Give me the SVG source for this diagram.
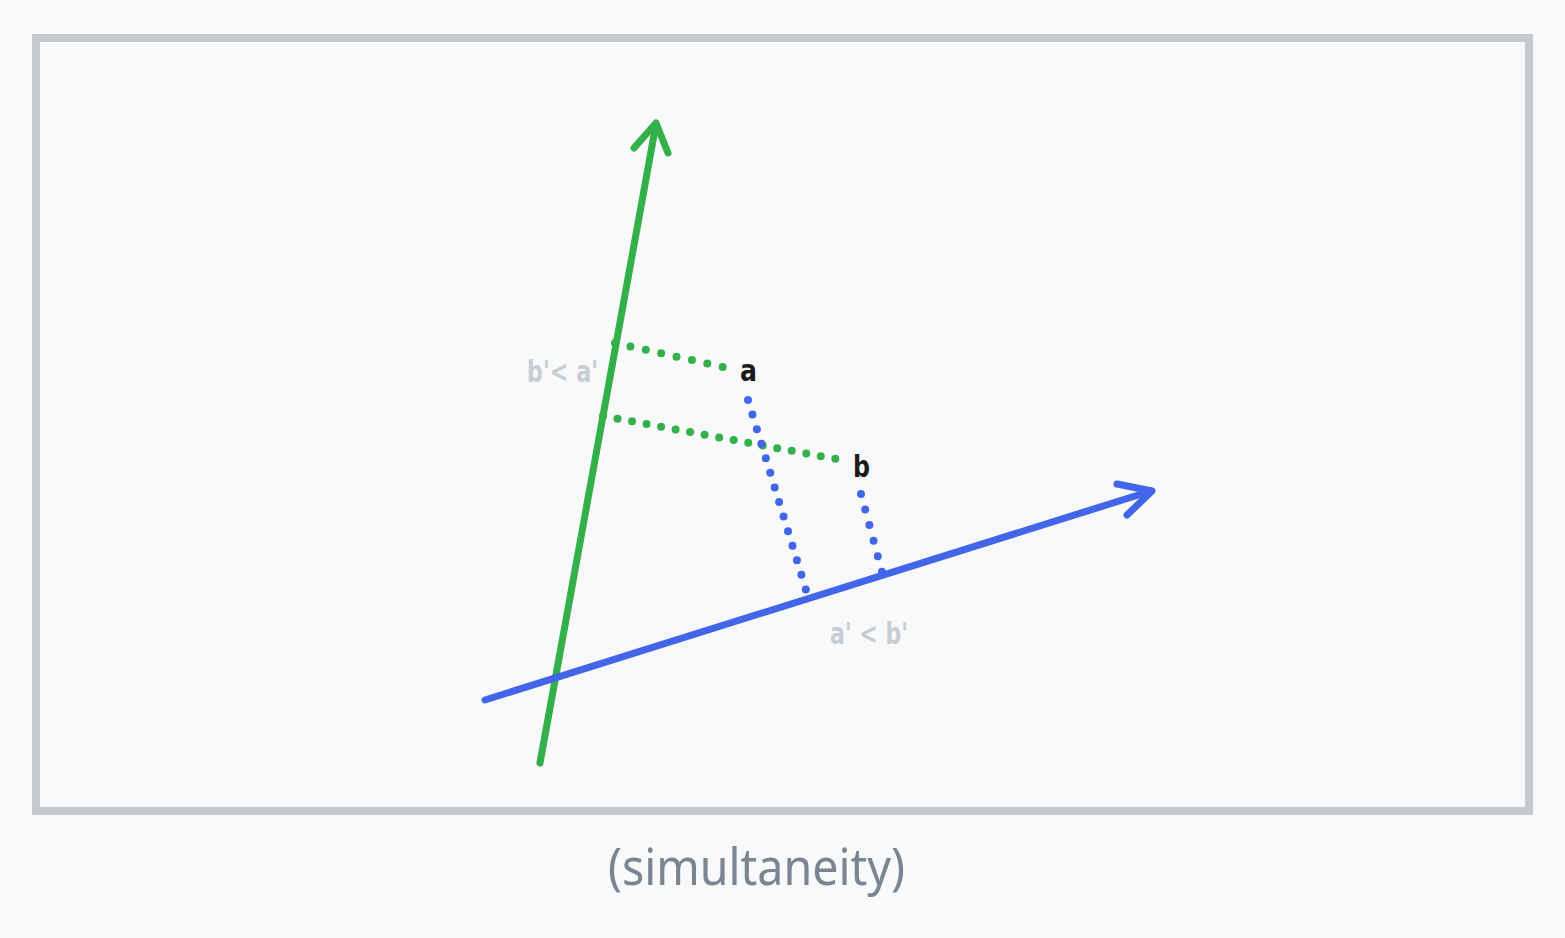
<svg xmlns="http://www.w3.org/2000/svg" width="1565" height="938" viewBox="0 0 1565 938">
<style>
.axis{fill:none;stroke-width:7;stroke-linecap:round;stroke-linejoin:round}
.dot{fill:none;stroke-width:8;stroke-linecap:round;stroke-dasharray:0 0.997}
.g{stroke:#34b04a}
.b{stroke:#4365ea}
.pt{font-family:"DejaVu Sans",sans-serif;font-weight:bold;font-size:30px;fill:#1b1b1b}
.lbl{font-family:"DejaVu Sans",sans-serif;font-weight:bold;font-size:30px;fill:#c8cdd2}
.cap{font-family:"Noto Sans",sans-serif;font-size:51px;fill:#7b8591}
</style>
<rect width="1565" height="938" fill="#f8f9fa"/>
<rect id="frame" x="36" y="38" width="1493" height="773" fill="#f8f9fa" stroke="#c5cacf" stroke-width="8"/>
<g id="connectors">
<path class="dot g" d="M615,343 L723,367" pathLength="7"/>
<path class="dot g" d="M603,416 L836,459" pathLength="16"/>
<path class="dot b" d="M748,400 L806,590" pathLength="13"/>
<path class="dot b" d="M861,494 L882,572" pathLength="5"/>
</g>
<g id="green-axis">
<path class="axis g" d="M540,763 L656,124"/>
<path class="axis g" d="M634,148 L656,123 L668,153"/>
</g>
<g id="blue-axis">
<path class="axis b" d="M485,700 L1151,491"/>
<path class="axis b" d="M1117,484 L1152,491 L1127,515"/>
</g>
<g id="point-a"><text class="pt" x="740" y="381" textLength="17" lengthAdjust="spacingAndGlyphs">a</text></g>
<g id="point-b"><text class="pt" x="853" y="477" textLength="17" lengthAdjust="spacingAndGlyphs">b</text></g>
<g id="label-green"><text class="lbl" x="527" y="382" textLength="71" lengthAdjust="spacingAndGlyphs">b'&lt; a'</text></g>
<g id="label-blue"><text class="lbl" x="830" y="644" textLength="78" lengthAdjust="spacingAndGlyphs">a' &lt; b'</text></g>
<g id="caption"><text class="cap" x="608" y="885" textLength="297" lengthAdjust="spacingAndGlyphs">(simultaneity)</text></g>
</svg>
